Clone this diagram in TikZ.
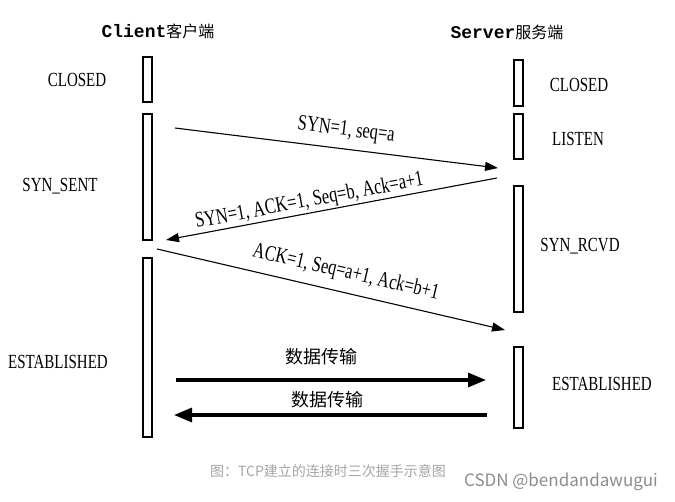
\documentclass[tikz,border=0pt]{standalone}
\usepackage{fontspec}
\setmainfont{Liberation Serif}
\newfontfamily\cjk{Noto Sans CJK SC}
\newfontfamily\statefont[FakeStretch=0.75]{Liberation Serif}
\newfontfamily\headfont{Liberation Mono}
\usetikzlibrary{arrows.meta,positioning}
\definecolor{capgray}{RGB}{165,165,165}
\definecolor{markgray}{RGB}{140,140,140}

\begin{document}
\begin{tikzpicture}[x=1pt,y=-1pt]
\tikzset{bar/.style={draw,line width=1.3pt,minimum width=9pt,inner sep=0pt},
  state/.style={font=\statefont\fontsize{20}{24}\selectfont},
  head/.style={font=\fontsize{18}{22}\selectfont},
  msg/.style={-{Triangle[length=13pt,width=9pt]},line width=1.1pt},
  data/.style={-{Triangle[length=18pt,width=14pt]},line width=3.2pt},
  lbl/.style={font=\statefont\fontsize{22}{24}\selectfont,sloped,inner sep=1pt}}
\useasboundingbox (0,0) rectangle (675,502);

% headers
\node[head] (client) at (158,31) {{\headfont\bfseries Client}{\cjk\fontsize{16}{20}\selectfont 客户端}};
\node[head] (server) at (507,32) {{\headfont\bfseries Server}{\cjk\fontsize{16}{20}\selectfont 服务端}};

% client bars
\node[bar,minimum height=45pt] (c1) at (147.5,79.5) {};
\node[bar,minimum height=126pt] (c2) at (147.5,177) {};
\node[bar,minimum height=179pt] (c3) at (147.5,347.5) {};
% server bars
\node[bar,minimum height=46pt] (s1) at (518.5,83) {};
\node[bar,minimum height=45pt] (s2) at (518.5,136.5) {};
\node[bar,minimum height=126pt] (s3) at (518.5,249) {};
\node[bar,minimum height=81pt] (s4) at (518.5,387.5) {};

% states
\node[state] (cclosed) at (77,80) {CLOSED};
\node[state] (csent) at (60,186) {SYN\_SENT};
\node[state] (cest) at (58,362) {ESTABLISHED};
\node[state] (sclosed) at (579,85) {CLOSED};
\node[state] (slisten) at (578,139) {LISTEN};
\node[state] (srcvd) at (580,246) {SYN\_RCVD};
\node[state] (sest) at (602,384) {ESTABLISHED};

% handshake
\coordinate (m1s) at (175,128); \coordinate (m1e) at (498,168);
\coordinate (m2s) at (497,178); \coordinate (m2e) at (166,240);
\coordinate (m3s) at (157,249); \coordinate (m3e) at (505,330);
\draw[msg] (m1s) -- node[lbl,pos=0.523,above=7pt] (l1) {SYN=1, seq=a} (m1e);
\draw[msg] (m2s) -- node[lbl,pos=0.56,above=0pt] (l2) {SYN=1, ACK=1, Seq=b, Ack=a+1} (m2e);
\draw[msg] (m3s) -- node[lbl,pos=0.53,above=8pt] (l3) {ACK=1, Seq=a+1, Ack=b+1} (m3e);

% data transfer
\coordinate (d1s) at (176,380); \coordinate (d1e) at (486,380);
\coordinate (d2s) at (487,415); \coordinate (d2e) at (174,415);
\draw[data] (d1s) -- node[pos=0.47,above=10pt,font=\cjk\fontsize{18}{20}\selectfont] (t1) {数据传输} (d1e);
\draw[data] (d2s) -- node[pos=0.51,above=2pt,font=\cjk\fontsize{18}{20}\selectfont] (t2) {数据传输} (d2e);

% caption
\node[text=capgray,font=\cjk\fontsize{14}{16}\selectfont] (cap) at (328,471) {图：TCP建立的连接时三次握手示意图};
\node[text=markgray,font=\cjk\fontsize{17}{20}\selectfont] (mark) at (561,482) {CSDN @bendandawugui};
\end{tikzpicture}
\end{document}
